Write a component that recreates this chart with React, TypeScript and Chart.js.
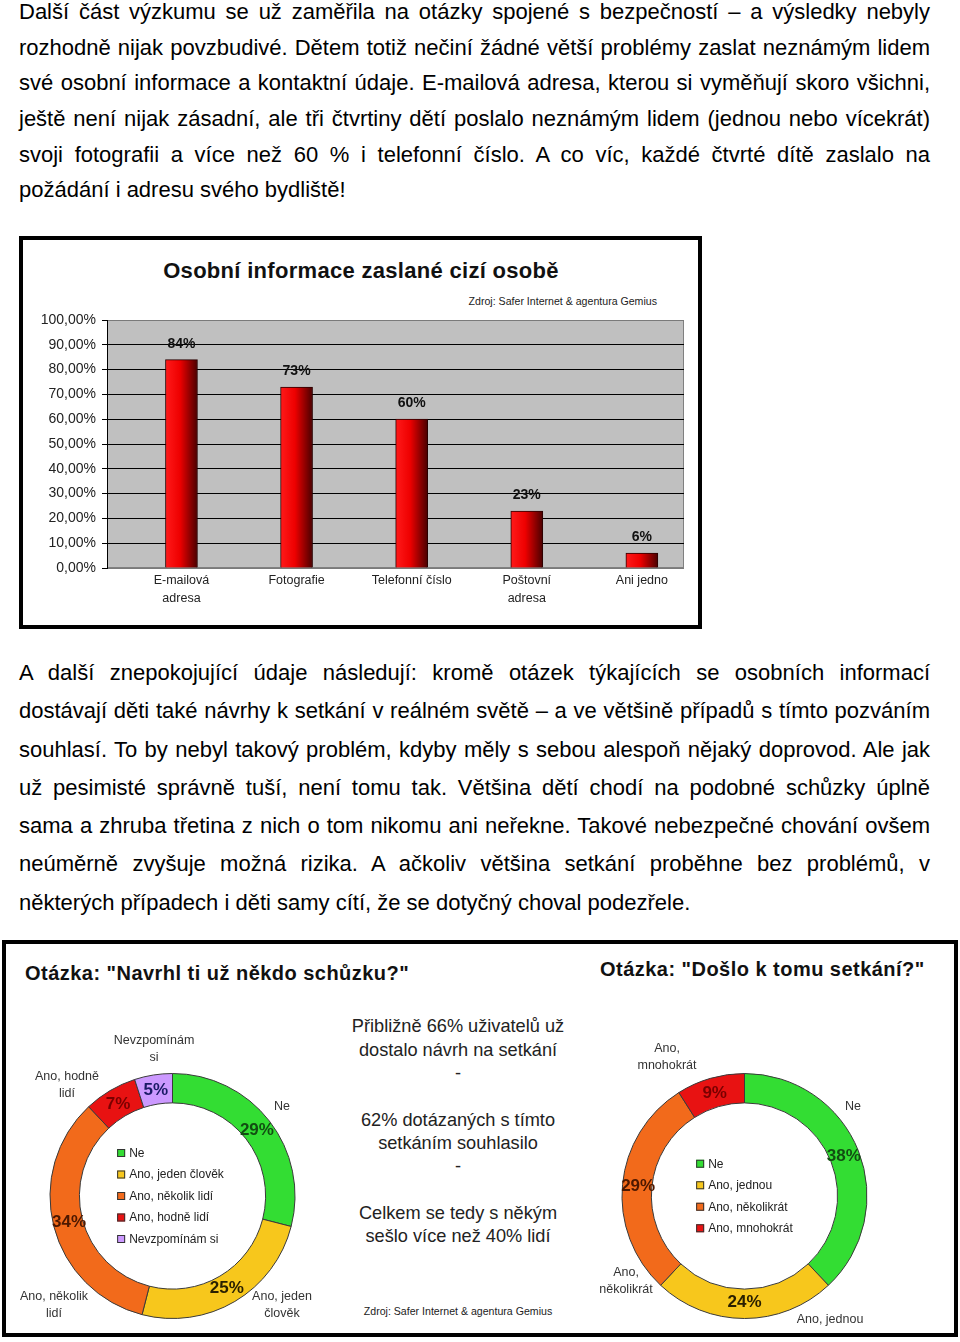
import React, { useEffect, useRef } from 'react';
import { Chart, registerables } from 'chart.js';

Chart.register(...registerables);

const FONT = '"Liberation Sans", Arial, Helvetica, sans-serif';
Chart.defaults.font.family = FONT;

// ---------- data ----------
const para1Lines = [
  'Další část výzkumu se už zaměřila na otázky spojené s bezpečností – a výsledky nebyly',
  'rozhodně nijak povzbudivé. Dětem totiž nečiní žádné větší problémy zaslat neznámým lidem',
  'své osobní informace a kontaktní údaje. E-mailová adresa, kterou si vyměňují skoro všichni,',
  'ještě není nijak zásadní, ale tři čtvrtiny dětí poslalo neznámým lidem (jednou nebo vícekrát)',
  'svoji fotografii a více než 60 % i telefonní číslo. A co víc, každé čtvrté dítě zaslalo na',
  'požádání i adresu svého bydliště!',
];
const para2Lines = [
  'A další znepokojující údaje následují: kromě otázek týkajících se osobních informací',
  'dostávají děti také návrhy k setkání v reálném světě – a ve většině případů s tímto pozváním',
  'souhlasí. To by nebyl takový problém, kdyby měly s sebou alespoň nějaký doprovod. Ale jak',
  'už pesimisté správně tuší, není tomu tak. Většina dětí chodí na podobné schůzky úplně',
  'sama a zhruba třetina z nich o tom nikomu ani neřekne. Takové nebezpečné chování ovšem',
  'neúměrně zvyšuje možná rizika. A ačkoliv většina setkání proběhne bez problémů, v',
  'některých případech i děti samy cítí, že se dotyčný choval podezřele.',
];

const barTitle = 'Osobní informace zaslané cizí osobě';
const sourceText = 'Zdroj: Safer Internet & agentura Gemius';
const barCategories: (string | string[])[] = [
  ['E-mailová', 'adresa'],
  'Fotografie',
  'Telefonní číslo',
  ['Poštovní', 'adresa'],
  'Ani jedno',
];
const barValues = [84, 73, 60, 23, 6];

const proposalTitle = 'Otázka: "Navrhl ti už někdo schůzku?"';
const proposalLabels = ['Ne', 'Ano, jeden člověk', 'Ano, několik lidí', 'Ano, hodně lidí', 'Nevzpomínám si'];
const proposalOuterLabels = [['Ne'], ['Ano, jeden', 'člověk'], ['Ano, několik', 'lidí'], ['Ano, hodně', 'lidí'], ['Nevzpomínám', 'si']];
const proposalValues = [29, 25, 34, 7, 5];

const meetingTitle = 'Otázka: "Došlo k tomu setkání?"';
const meetingLabels = ['Ne', 'Ano, jednou', 'Ano, několikrát', 'Ano, mnohokrát'];
const meetingOuterLabels = [['Ne'], ['Ano, jednou'], ['Ano,', 'několikrát'], ['Ano,', 'mnohokrát']];
const meetingValues = [38, 24, 29, 9];

const middleLines = [
  'Přibližně 66% uživatelů už',
  'dostalo návrh na setkání',
  '-',
  '',
  '62% dotázaných s tímto',
  'setkáním souhlasilo',
  '-',
  '',
  'Celkem se tedy s někým',
  'sešlo více než 40% lidí',
];

// ---------- styles ----------
const GREEN = '#33dd33';
const YELLOW = '#f7c71c';
const ORANGE = '#f26a1b';
const RED = '#e81212';
const LAVENDER = '#cc99ff';

// ---------- plugins ----------
const plotBackground = {
  id: 'plotBackground',
  beforeDraw(chart: any) {
    const { ctx, chartArea: a } = chart;
    ctx.save();
    ctx.fillStyle = '#c0c0c0';
    ctx.fillRect(a.left, a.top, a.right - a.left, a.bottom - a.top);
    ctx.strokeStyle = '#808080';
    ctx.lineWidth = 1;
    ctx.strokeRect(a.left + 0.5, a.top + 0.5, a.right - a.left - 1, a.bottom - a.top - 1);
    ctx.restore();
  },
};

const barValueLabels = {
  id: 'barValueLabels',
  afterDatasetsDraw(chart: any) {
    const { ctx } = chart;
    const meta = chart.getDatasetMeta(0);
    ctx.save();
    ctx.font = `bold 14px ${FONT}`;
    ctx.fillStyle = '#111';
    ctx.textAlign = 'center';
    ctx.textBaseline = 'middle';
    meta.data.forEach((el: any, i: number) => {
      const v = chart.data.datasets[0].data[i].y;
      ctx.fillText(v + '%', el.x, el.y - 16);
    });
    ctx.restore();
  },
};

const ringLabels = {
  id: 'ringLabels',
  afterDatasetsDraw(chart: any, _args: any, opts: any) {
    const { ctx } = chart;
    const meta = chart.getDatasetMeta(0);
    const data = chart.data.datasets[0].data;
    let cx = 0;
    let cy = 0;
    ctx.save();
    meta.data.forEach((el: any, i: number) => {
      const p = el.getProps(['x', 'y', 'startAngle', 'endAngle', 'innerRadius', 'outerRadius'], true);
      cx = p.x;
      cy = p.y;
      const mid = (p.startAngle + p.endAngle) / 2;
      const r = (p.innerRadius + p.outerRadius) / 2 - 1;
      ctx.font = `bold 17px ${FONT}`;
      ctx.fillStyle = opts.pctColors[i];
      ctx.textAlign = 'center';
      ctx.textBaseline = 'middle';
      ctx.fillText(data[i] + '%', p.x + Math.cos(mid) * r, p.y + Math.sin(mid) * r);

      const [dx, dy] = opts.outerPos[i];
      const lines: string[] = opts.outerLines[i];
      ctx.font = `12.5px ${FONT}`;
      ctx.fillStyle = '#333';
      lines.forEach((line, j) => {
        ctx.fillText(line, p.x + dx, p.y + dy + (j - (lines.length - 1) / 2) * 17);
      });
    });

    // legend in the hole
    const labels: string[] = chart.data.labels;
    const colors: string[] = chart.data.datasets[0].backgroundColor;
    ctx.font = `12px ${FONT}`;
    const maxW = Math.max(...labels.map((l) => ctx.measureText(l).width));
    const boxW = 12 + maxW;
    const x0 = cx - boxW / 2 + opts.legendShift;
    const rowH = 21.5;
    labels.forEach((l, i) => {
      const y = cy + (i - (labels.length - 1) / 2) * rowH;
      ctx.fillStyle = colors[i];
      ctx.fillRect(x0, y - 4, 8, 8);
      ctx.strokeStyle = '#333';
      ctx.lineWidth = 1;
      ctx.strokeRect(x0 + 0.5, y - 3.5, 7, 7);
      ctx.fillStyle = '#222';
      ctx.textAlign = 'left';
      ctx.textBaseline = 'middle';
      ctx.fillText(l, x0 + 12, y + 0.5);
    });
    ctx.restore();
  },
};

// ---------- components ----------
function BarChart() {
  const ref = useRef<HTMLCanvasElement>(null);
  useEffect(() => {
    const chart = new Chart(ref.current as HTMLCanvasElement, {
      type: 'bar',
      data: {
        datasets: [
          {
            data: barValues.map((v, i) => ({ x: i, y: v })),
            backgroundColor: (c: any) => {
              const ch = c.chart;
              const xs = ch.scales && ch.scales.x;
              if (!xs || c.dataIndex === undefined) return '#ee0000';
              const cx = xs.getPixelForValue(c.dataIndex);
              if (!Number.isFinite(cx)) return '#ee0000';
              const g = ch.ctx.createLinearGradient(cx - 16, 0, cx + 16, 0);
              g.addColorStop(0, '#ff1a1a');
              g.addColorStop(0.45, '#ee0000');
              g.addColorStop(1, '#4a0000');
              return g;
            },
            borderColor: '#2a0000',
            borderWidth: 1,
            barThickness: 32,
          } as any,
        ],
      },
      options: {
        responsive: false,
        animation: false,
        layout: { padding: { left: 0, right: 15, top: 80, bottom: 0 } },
        plugins: { legend: { display: false }, tooltip: { enabled: false } },
        scales: {
          x: {
            type: 'linear',
            offset: false,
            min: -0.647,
            max: 4.366,
            grid: { display: false, drawTicks: false, offset: false },
            border: { display: false },
            afterBuildTicks: (axis: any) => {
              axis.ticks = barCategories.map((_, i) => ({ value: i }));
            },
            afterFit: (s: any) => {
              s.height = 55;
            },
            ticks: {
              autoSkip: false,
              maxRotation: 0,
              minRotation: 0,
              padding: 4,
              color: '#222',
              font: { size: 12.5, lineHeight: 1.4 },
              callback: (v: any) => barCategories[v as number] as any,
            },
          } as any,
          y: {
            min: 0,
            max: 100,
            afterFit: (s: any) => {
              s.width = 84;
            },
            grid: {
              color: (c: any) => (c.tick && (c.tick.value === 0 || c.tick.value === 100) ? '#7a7a7a' : '#000'),
              tickColor: '#000',
              tickLength: 5,
              drawTicks: true,
            },
            border: { color: '#000' },
            ticks: {
              stepSize: 10,
              padding: 6,
              color: '#222',
              font: { size: 14 },
              callback: (v: any) => Number(v).toFixed(2).replace('.', ',') + '%',
            },
          } as any,
        },
      },
      plugins: [plotBackground, barValueLabels],
    });
    return () => chart.destroy();
  }, []);
  return <canvas ref={ref} width={676} height={383} style={{ position: 'absolute', left: 23, top: 240 }} />;
}

type RingProps = {
  labels: string[];
  values: number[];
  colors: string[];
  pctColors: string[];
  outerLines: string[][];
  outerPos: number[][];
  left: number;
  top: number;
  width: number;
  height: number;
  padding: { left: number; right: number; top: number; bottom: number };
  legendShift: number;
};

function RingChart(p: RingProps) {
  const ref = useRef<HTMLCanvasElement>(null);
  useEffect(() => {
    const chart = new Chart(ref.current as HTMLCanvasElement, {
      type: 'doughnut',
      data: {
        labels: p.labels,
        datasets: [
          {
            data: p.values,
            backgroundColor: p.colors,
            borderColor: '#3a3a3a',
            borderWidth: 1,
          },
        ],
      },
      options: {
        responsive: false,
        animation: false,
        cutout: '76%',
        layout: { padding: p.padding },
        plugins: {
          legend: { display: false },
          tooltip: { enabled: false },
          ringLabels: {
            pctColors: p.pctColors,
            outerLines: p.outerLines,
            outerPos: p.outerPos,
            legendShift: p.legendShift,
          },
        } as any,
      },
      plugins: [ringLabels],
    });
    return () => chart.destroy();
  }, []);
  return (
    <canvas
      ref={ref}
      width={p.width}
      height={p.height}
      style={{ position: 'absolute', left: p.left, top: p.top }}
    />
  );
}

function Paragraph({ lines, top, lh }: { lines: string[]; top: number; lh: number }) {
  return (
    <div style={{ position: 'absolute', left: 19, top, width: 911, fontSize: 22, color: '#000' }}>
      {lines.map((l, i) => (
        <div
          key={i}
          style={{
            height: lh,
            lineHeight: lh + 'px',
            whiteSpace: 'nowrap',
            textAlign: 'justify',
            textAlignLast: i === lines.length - 1 ? 'left' : 'justify',
          } as any}
        >
          {l}
        </div>
      ))}
    </div>
  );
}

export default function App() {
  return (
    <div
      style={{
        position: 'absolute',
        left: 0,
        top: 0,
        width: 960,
        height: 1342,
        background: '#fff',
        fontFamily: FONT,
        overflow: 'hidden',
      }}
    >
      <Paragraph lines={para1Lines} top={-5.8} lh={35.6} />

      {/* bar chart frame */}
      <div
        style={{
          position: 'absolute',
          left: 19,
          top: 236,
          width: 683,
          height: 393,
          border: '4px solid #000',
          boxSizing: 'border-box',
          background: '#fff',
        }}
      />
      <div
        style={{
          position: 'absolute',
          left: 61,
          width: 600,
          top: 257,
          lineHeight: '28px',
          textAlign: 'center',
          fontSize: 22,
          fontWeight: 'bold',
          letterSpacing: 0.3,
          color: '#111',
          whiteSpace: 'nowrap',
        }}
      >
        {barTitle}
      </div>
      <div
        style={{
          position: 'absolute',
          right: 960 - 657,
          top: 294,
          lineHeight: '14px',
          fontSize: 10.6,
          color: '#222',
          whiteSpace: 'nowrap',
        }}
      >
        {sourceText}
      </div>
      <BarChart />

      <Paragraph lines={para2Lines} top={654} lh={38.3} />

      {/* doughnut frame */}
      <div
        style={{
          position: 'absolute',
          left: 2,
          top: 940,
          width: 956,
          height: 397,
          border: '4px solid #000',
          boxSizing: 'border-box',
          background: '#fff',
        }}
      />
      <div
        style={{
          position: 'absolute',
          left: 25,
          top: 960,
          lineHeight: '26px',
          fontSize: 20,
          fontWeight: 'bold',
          letterSpacing: 0.47,
          color: '#111',
          whiteSpace: 'nowrap',
        }}
      >
        {proposalTitle}
      </div>
      <div
        style={{
          position: 'absolute',
          left: 600,
          top: 956,
          lineHeight: '26px',
          fontSize: 20,
          fontWeight: 'bold',
          letterSpacing: 0.47,
          color: '#111',
          whiteSpace: 'nowrap',
        }}
      >
        {meetingTitle}
      </div>

      <div
        style={{
          position: 'absolute',
          left: 258,
          width: 400,
          top: 1015.4,
          textAlign: 'center',
          fontSize: 18.2,
          color: '#222',
        }}
      >
        {middleLines.map((l, i) => (
          <div key={i} style={{ height: 23.3, lineHeight: '23.3px', whiteSpace: 'nowrap' }}>
            {l}
          </div>
        ))}
      </div>
      <div
        style={{
          position: 'absolute',
          left: 258,
          width: 400,
          top: 1304,
          lineHeight: '14px',
          textAlign: 'center',
          fontSize: 10.6,
          color: '#222',
          whiteSpace: 'nowrap',
        }}
      >
        {sourceText}
      </div>

      <RingChart
        labels={proposalLabels}
        values={proposalValues}
        colors={[GREEN, YELLOW, ORANGE, RED, LAVENDER]}
        pctColors={['#124d12', '#2a2000', '#4d1800', '#7a0000', '#1a1a66']}
        outerLines={proposalOuterLabels}
        outerPos={[
          [109.5, -89],
          [109.5, 109],
          [-118.5, 109],
          [-105.5, -111],
          [-18.5, -147],
        ]}
        left={6}
        top={1000}
        width={330}
        height={333}
        padding={{ left: 43.5, right: 40.5, top: 73, bottom: 14 }}
        legendShift={-2}
      />
      <RingChart
        labels={meetingLabels}
        values={meetingValues}
        colors={[GREEN, YELLOW, ORANGE, RED]}
        pctColors={['#124d12', '#2a2000', '#4d1800', '#7a0000']}
        outerLines={meetingOuterLabels}
        outerPos={[
          [108.5, -89],
          [85.5, 124],
          [-118.5, 85],
          [-77.5, -139],
        ]}
        left={580}
        top={1000}
        width={370}
        height={333}
        padding={{ left: 41.5, right: 82.5, top: 73, bottom: 14 }}
        legendShift={0}
      />
    </div>
  );
}
